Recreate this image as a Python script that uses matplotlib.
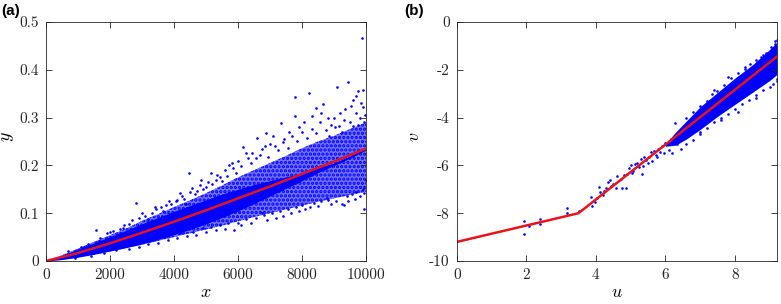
import numpy as np
import matplotlib.pyplot as plt

plt.rcParams["font.family"] = "cmr10"
plt.rcParams["mathtext.fontset"] = "cm"
plt.rcParams["axes.unicode_minus"] = False
plt.rcParams["axes.formatter.use_mathtext"] = True
plt.rcParams["hatch.color"] = "#0000ff"
plt.rcParams["hatch.linewidth"] = 1.6

BLUE = "#0000ff"
RED = "#e4161c"

# ---- panel (a): y against x ----
red_x = [0, 1000, 2000, 3000, 4000, 5000, 6000, 7000, 8000, 9000, 10000]
red_y = [0, 0.0168, 0.0371, 0.0591, 0.0822, 0.1061, 0.131, 0.156, 0.182, 0.208, 0.235]

# spread of the dense cloud (outer: speckled, core: solid)
env_x = [0, 500, 1000, 1500, 2000, 2500, 3000, 3500, 4000, 4500, 5000,
         5500, 6000, 6500, 7000, 7500, 8000, 8500, 9000, 9500, 10000]
outer_lo = [0, 0.003, 0.008, 0.014, 0.020, 0.027, 0.034, 0.042, 0.050, 0.058, 0.066,
            0.074, 0.083, 0.092, 0.100, 0.108, 0.116, 0.124, 0.131, 0.138, 0.145]
outer_hi = [0, 0.012, 0.026, 0.040, 0.054, 0.068, 0.084, 0.098, 0.113, 0.127, 0.142,
            0.158, 0.175, 0.190, 0.205, 0.220, 0.236, 0.250, 0.262, 0.276, 0.290]
core_lo = [0, 0.003, 0.008, 0.014, 0.021, 0.028, 0.036, 0.045, 0.055, 0.066, 0.078,
           0.091, 0.105, 0.120, 0.136, 0.152, 0.168, 0.185, 0.200, 0.215, 0.232]
core_hi = [0, 0.012, 0.025, 0.038, 0.051, 0.064, 0.078, 0.091, 0.104, 0.116, 0.128,
           0.140, 0.150, 0.160, 0.168, 0.176, 0.184, 0.195, 0.205, 0.220, 0.236]

# individual points outside the dense cloud
pts_x = [700, 1100, 1300, 1550, 1700, 1900, 2100, 2300, 2450, 2600, 2810, 2900, 3100,
         3300, 3450, 3600, 3750, 3900, 4050, 4190, 4300, 4460, 4500, 4650, 4800, 4900,
         5050, 5150, 5300, 5450, 5600, 5730, 5850, 6000, 6170, 6300, 6450, 6600, 6750,
         6867, 7000, 7150, 7335, 7450, 7600, 7785, 7780, 7900, 8050, 8220, 8325, 8440,
         8550, 8670, 8800, 8900, 9020, 9085, 9200, 9300, 9440, 9530, 9610, 9700, 9740,
         9800, 9865, 9910, 9920, 9970,
         900, 1400, 1800, 2200, 2600, 2900, 3200, 3500, 3800, 4100, 4400, 4700, 5000,
         5300, 5590, 5890, 6100, 6400, 6740, 6900, 7190, 7400, 7650, 7900, 8100, 8360,
         8500, 8770, 8900, 9240, 9300, 9450, 9650, 9800, 9950, 9950,
         4100, 4250, 4380, 4550, 4720, 4850, 5000, 5200, 5350, 5500, 5650, 5800, 5950,
         6100, 6250, 6400, 6550, 6700, 6850, 6950, 7100, 7250, 7400, 7550, 7700, 7850,
         8000, 8150, 8300, 8450, 8600, 8750, 8850, 9000, 9150, 9250, 9350, 9500, 9600,
         9680, 9750, 9850, 9950,
         4200, 4600, 4900, 5150, 5450, 5700, 6000, 6250, 6550, 6800, 7050, 7300, 7550,
         7800, 8000, 8250, 8600, 8800, 9050, 9400, 9550, 9700, 9900, 10000,
         1200, 1650, 2000, 2400, 2700, 3000, 3200, 3400, 3650, 3850, 2500, 3000, 3400,
         3700, 4000]
pts_y = [0.020, 0.030, 0.035, 0.064, 0.048, 0.058, 0.062, 0.068, 0.075, 0.078, 0.122,
         0.090, 0.095, 0.100, 0.108, 0.112, 0.118, 0.120, 0.125, 0.142, 0.130, 0.185,
         0.144, 0.140, 0.158, 0.150, 0.165, 0.184, 0.170, 0.175, 0.190, 0.200, 0.195,
         0.210, 0.239, 0.215, 0.225, 0.258, 0.235, 0.267, 0.245, 0.240, 0.289, 0.255,
         0.270, 0.304, 0.344, 0.280, 0.290, 0.351, 0.304, 0.320, 0.290, 0.328, 0.300,
         0.285, 0.281, 0.365, 0.310, 0.295, 0.374, 0.325, 0.337, 0.310, 0.356, 0.300,
         0.467, 0.323, 0.358, 0.305,
         0.006, 0.011, 0.016, 0.022, 0.025, 0.030, 0.036, 0.038, 0.045, 0.048, 0.052,
         0.055, 0.060, 0.064, 0.066, 0.065, 0.075, 0.080, 0.101, 0.085, 0.089, 0.095,
         0.100, 0.105, 0.108, 0.121, 0.115, 0.131, 0.120, 0.120, 0.117, 0.125, 0.130,
         0.135, 0.108, 0.142,
         0.128, 0.136, 0.120, 0.152, 0.146, 0.170, 0.155, 0.162, 0.180, 0.168, 0.178,
         0.205, 0.185, 0.198, 0.225, 0.205, 0.215, 0.222, 0.240, 0.218, 0.262, 0.232,
         0.248, 0.236, 0.262, 0.252, 0.270, 0.258, 0.276, 0.268, 0.310, 0.275, 0.262,
         0.300, 0.282, 0.270, 0.318, 0.290, 0.282, 0.345, 0.285, 0.330, 0.290,
         0.058, 0.060, 0.070, 0.072, 0.075, 0.080, 0.080, 0.088, 0.090, 0.097, 0.100,
         0.105, 0.108, 0.112, 0.118, 0.112, 0.125, 0.128, 0.125, 0.135, 0.140, 0.145,
         0.150, 0.170,
         0.030, 0.042, 0.060, 0.070, 0.085, 0.100, 0.088, 0.112, 0.105, 0.125, 0.032,
         0.040, 0.046, 0.050, 0.058]

# ---- panel (b): v against u ----
red_u = [0, 3.5, 9.21]
red_v = [-9.2, -8.0, -1.45]

benv_u = [6.0, 6.3, 6.6, 7.0, 7.5, 8.0, 8.5, 9.0, 9.21]
bouter_lo = [-5.2, -5.15, -4.9, -4.5, -3.95, -3.45, -2.95, -2.45, -2.2]
bouter_hi = [-5.1, -4.6, -4.15, -3.55, -2.95, -2.35, -1.8, -1.15, -0.85]

bpts_u = [1.94, 1.94, 2.07, 2.40, 2.40, 3.17, 3.17, 3.52, 3.85, 3.88, 3.97, 4.04, 4.09,
          4.12, 4.20, 4.23, 4.30, 4.35, 4.42, 4.45, 4.50, 4.58, 4.62, 4.71, 4.75, 4.81,
          4.86, 4.90, 4.95, 5.00, 5.05, 5.08, 5.12, 5.19, 5.25, 5.30, 5.34, 5.35, 5.40,
          5.43, 5.50, 5.53, 5.60, 5.63, 5.67, 5.72, 5.77, 5.80, 5.85, 5.90, 5.96, 6.00,
          6.06, 6.10, 6.15, 6.20, 6.25, 6.28, 6.35, 6.40, 6.45, 6.55, 6.70, 6.90, 7.10,
          7.25, 7.40, 7.80, 8.30, 8.80, 9.15, 9.20, 7.00, 7.60, 8.10, 8.60, 9.10, 9.20,
          6.60, 6.80, 7.00, 7.20, 7.35, 7.50, 7.70, 7.90, 8.10, 8.30, 8.45, 8.60, 8.75,
          8.90, 9.05, 9.15,
          6.60, 6.80, 7.00, 7.20, 7.40, 7.60, 7.80, 8.00, 8.20, 8.40, 8.60, 8.80, 9.00,
          9.20]
bpts_v = [-8.32, -8.85, -8.55, -8.24, -8.45, -7.80, -8.01, -7.92, -7.32, -7.70, -7.51,
          -7.35, -6.90, -7.12, -7.25, -7.05, -6.95, -6.70, -6.61, -6.85, -6.79, -6.93,
          -6.45, -6.56, -6.95, -6.40, -6.93, -6.35, -6.10, -6.00, -6.30, -6.22, -5.95,
          -5.91, -6.05, -5.75, -6.34, -6.02, -5.65, -5.77, -5.90, -5.63, -5.45, -5.80,
          -5.39, -5.55, -5.63, -5.30, -5.45, -5.20, -5.49, -5.05, -5.07, -5.35, -4.90,
          -5.50, -4.93, -4.23, -5.10, -4.60, -5.30, -4.35, -4.20, -3.95, -3.60, -3.45,
          -2.85, -2.30, -1.90, -1.40, -0.80, -0.75, -4.60, -4.10, -3.75, -3.20, -2.60,
          -2.45,
          -4.00, -3.75, -3.50, -3.30, -3.00, -2.90, -2.65, -2.35, -2.15, -1.95, -1.75,
          -1.60, -1.45, -1.30, -1.05, -0.90,
          -5.10, -4.95, -4.70, -4.45, -4.20, -4.00, -3.85, -3.65, -3.45, -3.25, -3.05,
          -2.85, -2.70, -2.40]


def style_axes(ax):
    ax.tick_params(direction="in", top=True, right=True, length=4, width=0.6,
                   labelsize=11, colors="#262626", pad=5)
    for s in ax.spines.values():
        s.set_color("#262626")
        s.set_linewidth(0.6)


fig = plt.figure(figsize=(7.81, 3.04), dpi=100)

ax1 = fig.add_axes([0.0589, 0.1414, 0.4097, 0.7862])
ax1.fill_between(env_x, outer_lo, outer_hi, facecolor=(0.45, 0.45, 1.0),
                 edgecolor="none", hatch="....", lw=0)
ax1.fill_between(env_x, core_lo, core_hi, color=BLUE, lw=0)
ax1.scatter(pts_x, pts_y, s=3.5, color=BLUE, linewidths=0)
ax1.plot(red_x, red_y, color=RED, lw=1.8)
ax1.set_xlim(0, 10000)
ax1.set_ylim(0, 0.5)
ax1.set_xticks([0, 2000, 4000, 6000, 8000, 10000])
ax1.set_xticklabels(["0", "2000", "4000", "6000", "8000", "10000"])
ax1.set_yticks([0, 0.1, 0.2, 0.3, 0.4, 0.5])
ax1.set_yticklabels(["0", "0.1", "0.2", "0.3", "0.4", "0.5"])
ax1.set_xlabel("$x$", fontsize=13, labelpad=2)
ax1.set_ylabel("$y$", fontsize=13)
ax1.yaxis.set_label_coords(-0.095, 0.52)
style_axes(ax1)

ax2 = fig.add_axes([0.585, 0.1414, 0.4097, 0.7862])
ax2.fill_between(benv_u, bouter_lo, bouter_hi, color=BLUE, lw=0)
ax2.scatter(bpts_u, bpts_v, s=3.5, color=BLUE, linewidths=0)
ax2.plot(red_u, red_v, color=RED, lw=1.8)
ax2.set_xlim(0, 9.21)
ax2.set_ylim(-10, 0)
ax2.set_xticks([0, 2, 4, 6, 8])
ax2.set_xticklabels(["0", "2", "4", "6", "8"])
ax2.set_yticks([-10, -8, -6, -4, -2, 0])
ax2.set_yticklabels(["-10", "-8", "-6", "-4", "-2", "0"])
ax2.set_xlabel("$u$", fontsize=13, labelpad=2)
ax2.set_ylabel("$v$", fontsize=13)
ax2.yaxis.set_label_coords(-0.11, 0.52)
style_axes(ax2)

fig.text(0.002, 0.965, "(a)", fontsize=11, fontweight="bold",
         family="Liberation Sans", va="center", ha="left")
fig.text(0.518, 0.965, "(b)", fontsize=11, fontweight="bold",
         family="Liberation Sans", va="center", ha="left")

fig.savefig("out.png", dpi=100)
